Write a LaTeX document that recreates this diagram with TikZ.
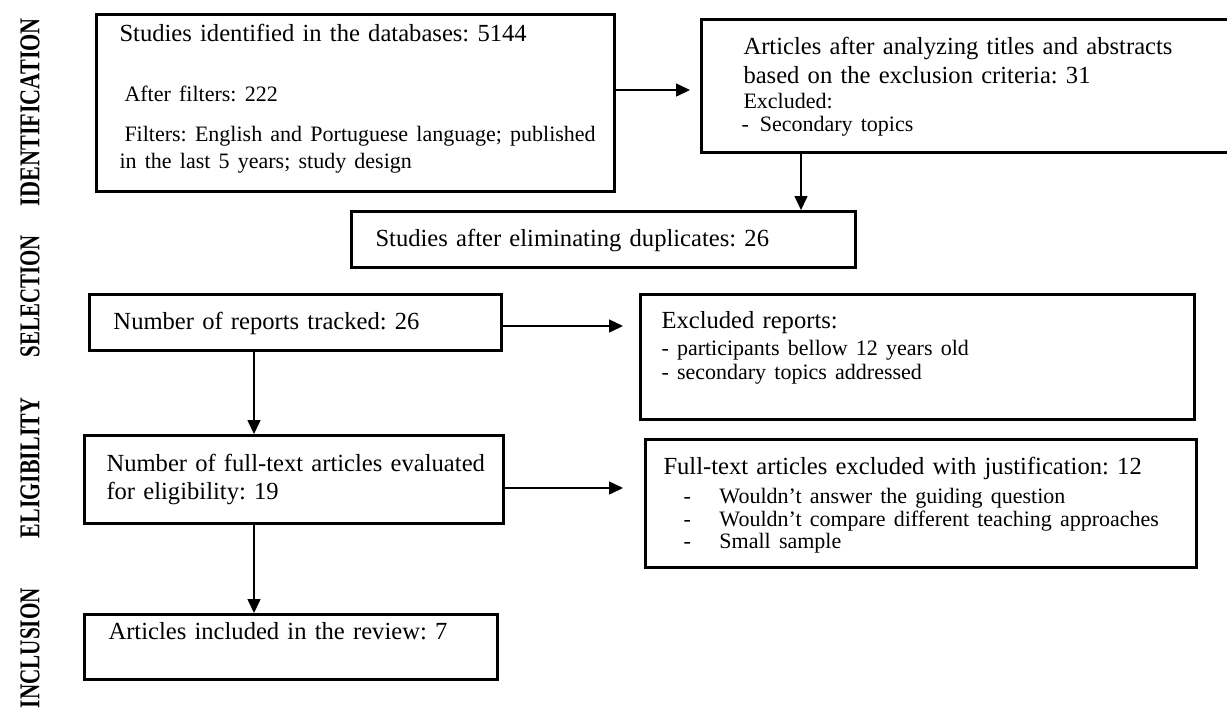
\documentclass[tikz,border=0pt]{standalone}
\usepackage{fontspec}
\setmainfont{Liberation Serif}
\usetikzlibrary{arrows.meta}
\newcommand{\smalltxt}{\fontsize{11}{13}\selectfont}
\newcommand{\listdash}{\hspace*{10pt}\makebox[18pt][l]{-}}
\frenchspacing
\begin{document}
\begin{tikzpicture}[x=1pt,y=-1pt,
  box/.style={draw,line width=1.5pt,anchor=north west,inner sep=0pt,align=left,
    font=\fontsize{12.3}{14.5}\selectfont},
  arr/.style={-{Triangle[length=7pt,width=6.5pt]},line width=0.75pt},
  phase/.style={rotate=90,inner sep=0pt,font=\bfseries\fontsize{12}{14}\selectfont}]
\useasboundingbox (0,0) rectangle (613.5,354.5);
\node[phase] (phident) at (15,56) {\resizebox{94pt}{9.5pt}{IDENTIFICATION}};
\node[phase] (phsel) at (15,148) {\resizebox{61pt}{9.5pt}{SELECTION}};
\node[phase] (phelig) at (15,234) {\resizebox{70pt}{9.5pt}{ELIGIBILITY}};
\node[phase] (phincl) at (15,324) {\resizebox{60pt}{9.5pt}{INCLUSION}};
\node[box,text width=259pt,text height=13.5pt,text depth=75pt] (ident) at (47.5,6.5)
  {\leftskip=11.5pt Studies identified in the databases: 5144\\[15.5pt]
   {\smalltxt\hspace*{2.5pt}After filters: 222}\\[5.5pt]
   {\smalltxt\hspace*{2.5pt}Filters: English and Portuguese language; published}\\[-1pt]
   {\smalltxt in the last 5 years; study design}\par};
\node[box,text width=275pt,text height=17.5pt,text depth=49pt] (screen) at (350,9)
  {\leftskip=21pt Articles after analyzing titles and abstracts\\
   based on the exclusion criteria: 31\\[-2pt]
   {\smalltxt Excluded:}\\[-3pt]
   {\smalltxt\hspace*{-1pt}-\hspace*{5.5pt}Secondary topics}\par};
\node[box,text width=252pt,text height=17.5pt,text depth=10.5pt] (dup) at (175,105)
  {\leftskip=12pt Studies after eliminating duplicates: 26\par};
\node[box,text width=206pt,text height=17.5pt,text depth=10.5pt] (tracked) at (44,146.5)
  {\leftskip=12pt Number of reports tracked: 26\par};
\node[box,text width=277pt,text height=17pt,text depth=45.5pt] (exclrep) at (319.5,146.5)
  {\leftskip=10.5pt Excluded reports:\\[-1pt]
   {\smalltxt - participants bellow 12 years old}\\[-2.5pt]
   {\smalltxt - secondary topics addressed}\par};
\node[box,text width=209.5pt,text height=18pt,text depth=26pt] (fulltext) at (41.5,217)
  {\leftskip=11pt Number of full-text articles evaluated\\[-0.5pt]
   for eligibility: 19\par};
\node[box,text width=275.5pt,text height=17.5pt,text depth=46.5pt] (exclfull) at (322,219)
  {\leftskip=9pt Full-text articles excluded with justification: 12\\
   {\smalltxt\listdash Wouldn’t answer the guiding question}\\[-3pt]
   {\smalltxt\listdash Wouldn’t compare different teaching approaches}\\[-3.5pt]
   {\smalltxt\listdash Small sample}\par};
\node[box,text width=206.5pt,text height=12.5pt,text depth=20pt] (review) at (41.5,306.5)
  {\leftskip=12pt Articles included in the review: 7\par};
\coordinate (abY) at (0,45);
\coordinate (bcX) at (400.5,0);
\coordinate (deY) at (0,163);
\coordinate (fgY) at (0,244);
\coordinate (lane) at (127,0);
\draw[arr,shorten >=5pt] (ident.east |- abY) -- (screen.west |- abY);
\draw[arr] (screen.south -| bcX) -- (dup.north -| bcX);
\draw[arr,shorten >=8pt] (tracked.east |- deY) -- (exclrep.west |- deY);
\draw[arr] (tracked.south -| lane) -- (fulltext.north -| lane);
\draw[arr,shorten >=10.5pt] (fulltext.east |- fgY) -- (exclfull.west |- fgY);
\draw[arr] (fulltext.south -| lane) -- (review.north -| lane);
\end{tikzpicture}
\end{document}
